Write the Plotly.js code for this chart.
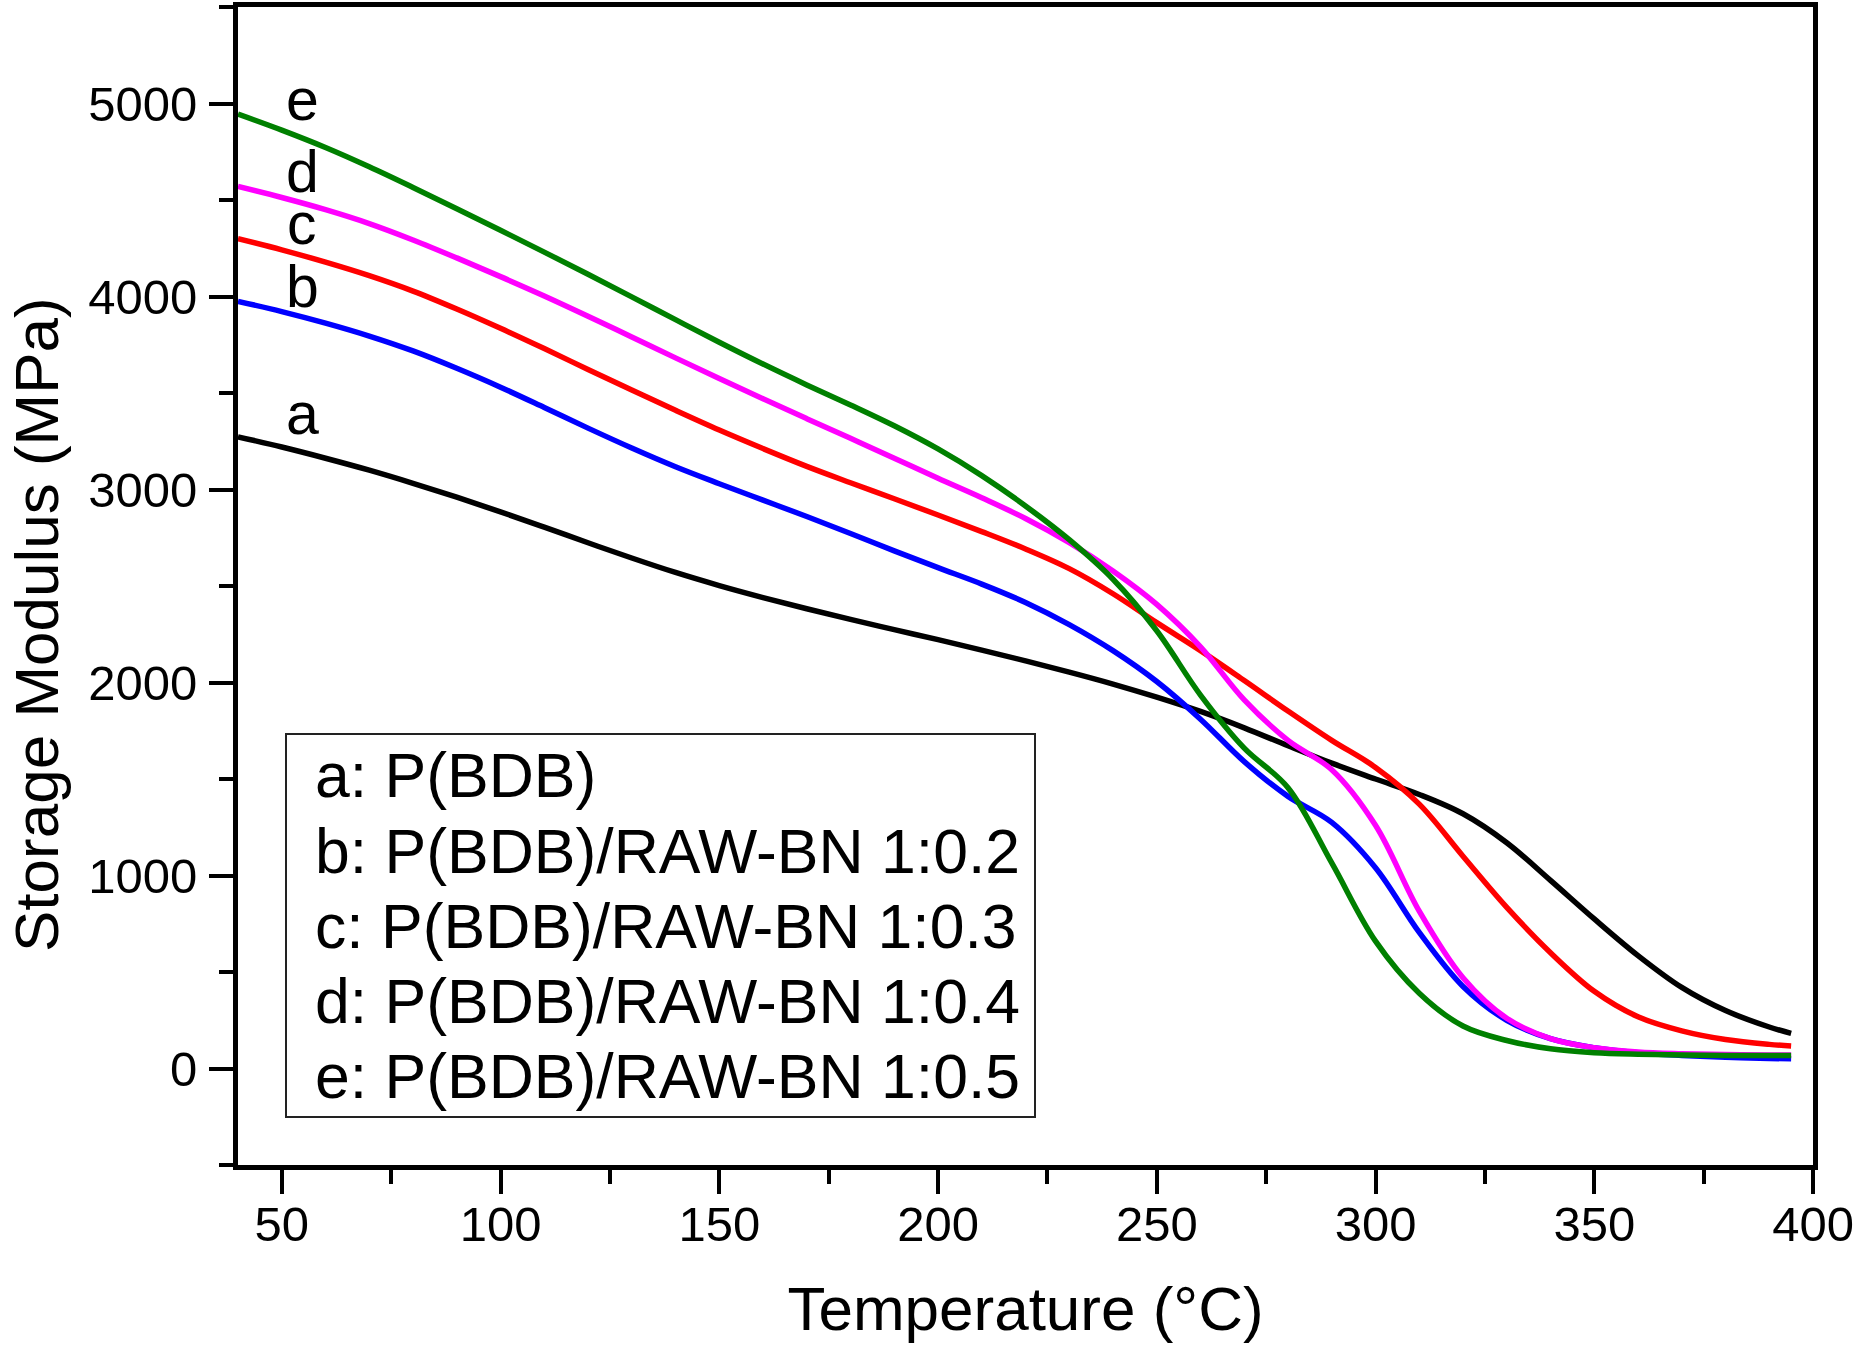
<!DOCTYPE html>
<html>
<head>
<meta charset="utf-8">
<script src="https://cdn.plot.ly/plotly-3.0.1.min.js"></script>
<style>
  html, body { margin: 0; padding: 0; background: #ffffff; }
  #chart { width: 1860px; height: 1354px; }
</style>
</head>
<body>
<div id="chart"></div>
<script>
// Temperature (°C) grid shared by all curves
const temperature = [40, 50, 60, 70, 80, 90, 100, 110, 120, 130, 140, 150, 160, 170, 180, 190, 200, 210, 220, 230, 240, 250, 260, 270, 280, 290, 300, 310, 320, 330, 340, 350, 360, 370, 380, 390, 395];

// Storage modulus (MPa)
const modA = [3273, 3220, 3162, 3100, 3032, 2960, 2884, 2805, 2724, 2645, 2570, 2502, 2440, 2382, 2327, 2274, 2222, 2168, 2112, 2054, 1992, 1924, 1850, 1765, 1672, 1582, 1500, 1420, 1320, 1170, 975, 775, 585, 420, 300, 215, 182];
const modB = [3975, 3922, 3862, 3795, 3718, 3628, 3530, 3425, 3318, 3215, 3118, 3030, 2945, 2860, 2772, 2682, 2595, 2510, 2415, 2300, 2165, 2005, 1810, 1590, 1410, 1275, 1040, 705, 425, 250, 155, 108, 82, 68, 58, 52, 50];
const modC = [4300, 4242, 4178, 4108, 4028, 3935, 3835, 3730, 3622, 3515, 3410, 3308, 3212, 3120, 3035, 2952, 2868, 2782, 2692, 2590, 2460, 2310, 2165, 2010, 1852, 1700, 1560, 1370, 1100, 835, 600, 400, 268, 195, 150, 125, 117];
const modD = [4570, 4513, 4450, 4378, 4293, 4200, 4103, 4003, 3898, 3790, 3682, 3575, 3470, 3367, 3265, 3162, 3058, 2957, 2850, 2725, 2578, 2405, 2185, 1910, 1700, 1548, 1260, 815, 470, 260, 155, 108, 86, 77, 72, 70, 70];
const modE = [4945, 4862, 4772, 4672, 4565, 4455, 4343, 4230, 4115, 3998, 3880, 3763, 3650, 3542, 3438, 3330, 3210, 3072, 2915, 2740, 2535, 2268, 1935, 1660, 1455, 1065, 660, 390, 220, 145, 102, 82, 74, 70, 68, 68, 68];

const curveLetters = ['a', 'b', 'c', 'd', 'e'];
const seriesNames = ['P(BDB)', 'P(BDB)/RAW-BN 1:0.2', 'P(BDB)/RAW-BN 1:0.3', 'P(BDB)/RAW-BN 1:0.4', 'P(BDB)/RAW-BN 1:0.5'];
const seriesColors = ['#000000', '#0000ff', '#ff0000', '#ff00ff', '#008000'];

const xTitle = 'Temperature (°C)';
const yTitle = 'Storage Modulus (MPa)';

const mods = [modA, modB, modC, modD, modE];

const FONT = 'Liberation Sans, Arial, sans-serif';

const traces = mods.map((m, i) => ({
  x: temperature,
  y: m,
  type: 'scatter',
  mode: 'lines',
  name: curveLetters[i] + ': ' + seriesNames[i],
  line: { color: seriesColors[i], width: 5.5, shape: 'spline', smoothing: 1 },
  showlegend: false,
  hoverinfo: 'x+y'
}));

// Figure geometry (pixels)
const W = 1860, H = 1354;
const L = 238, R = 47, T = 7, B = 189;
const plotW = W - L - R, plotH = H - T - B;
const px = X => (X - L) / plotW;
const py = Y => (H - B - Y) / plotH;

const annotations = [];

// curve letters near left end
const letterY = [414, 287, 224, 172, 100];
curveLetters.forEach((c, i) => {
  annotations.push({
    xref: 'paper', yref: 'paper', x: px(302), y: py(letterY[i]),
    xanchor: 'center', yanchor: 'middle', valign: 'middle', showarrow: false,
    height: 50,
    text: c, font: { family: FONT, size: 59, color: '#000' }
  });
});

// legend box text
const legendRowY = [775, 851, 926, 1001, 1076];
curveLetters.forEach((c, i) => {
  annotations.push({
    xref: 'paper', yref: 'paper', x: px(313), y: py(legendRowY[i]),
    xanchor: 'left', yanchor: 'middle', showarrow: false,
    text: c + ': ' + seriesNames[i], font: { family: FONT, size: 62.5, color: '#000' }
  });
});

// y-axis title (placed as in the reference, slightly below plot centre)
annotations.push({
  xref: 'paper', yref: 'paper', x: px(36), y: py(625),
  xanchor: 'center', yanchor: 'middle', showarrow: false, textangle: -90,
  text: yTitle, font: { family: FONT, size: 62, color: '#000' }
});

const layout = {
  width: W, height: H,
  margin: { l: L, r: R, t: T, b: B, pad: 0 },
  paper_bgcolor: '#ffffff',
  plot_bgcolor: '#ffffff',
  font: { family: FONT, color: '#000' },
  showlegend: false,
  xaxis: {
    range: [40, 400], tick0: 0, dtick: 50,
    ticks: 'outside', ticklen: 24, tickwidth: 4, tickcolor: '#000',
    showline: true, linewidth: 5, linecolor: '#000', mirror: true,
    showgrid: false, zeroline: false,
    tickfont: { family: FONT, size: 49, color: '#000' },
    ticklabelstandoff: -12,
    minor: { dtick: 25, tick0: 0, ticks: 'outside', ticklen: 14, tickwidth: 4, tickcolor: '#000', showgrid: false },
    title: { text: xTitle, font: { family: FONT, size: 62, color: '#000' }, standoff: 38 },
    automargin: false
  },
  yaxis: {
    range: [-500, 5500], tick0: 0, dtick: 1000,
    ticks: 'outside', ticklen: 24, tickwidth: 4, tickcolor: '#000',
    showline: true, linewidth: 5, linecolor: '#000', mirror: true,
    showgrid: false, zeroline: false,
    tickfont: { family: FONT, size: 49, color: '#000' },
    ticklabelstandoff: 2,
    minor: { dtick: 500, tick0: 0, ticks: 'outside', ticklen: 14, tickwidth: 4, tickcolor: '#000', showgrid: false },
    automargin: false
  },
  shapes: [{
    type: 'rect', xref: 'paper', yref: 'paper',
    x0: px(286), x1: px(1035), y0: py(1117), y1: py(734),
    line: { color: '#222', width: 2 }, fillcolor: 'rgba(0,0,0,0)', layer: 'above'
  }],
  annotations: annotations
};

Plotly.newPlot('chart', traces, layout, { staticPlot: true, displayModeBar: false });
</script>
</body>
</html>
